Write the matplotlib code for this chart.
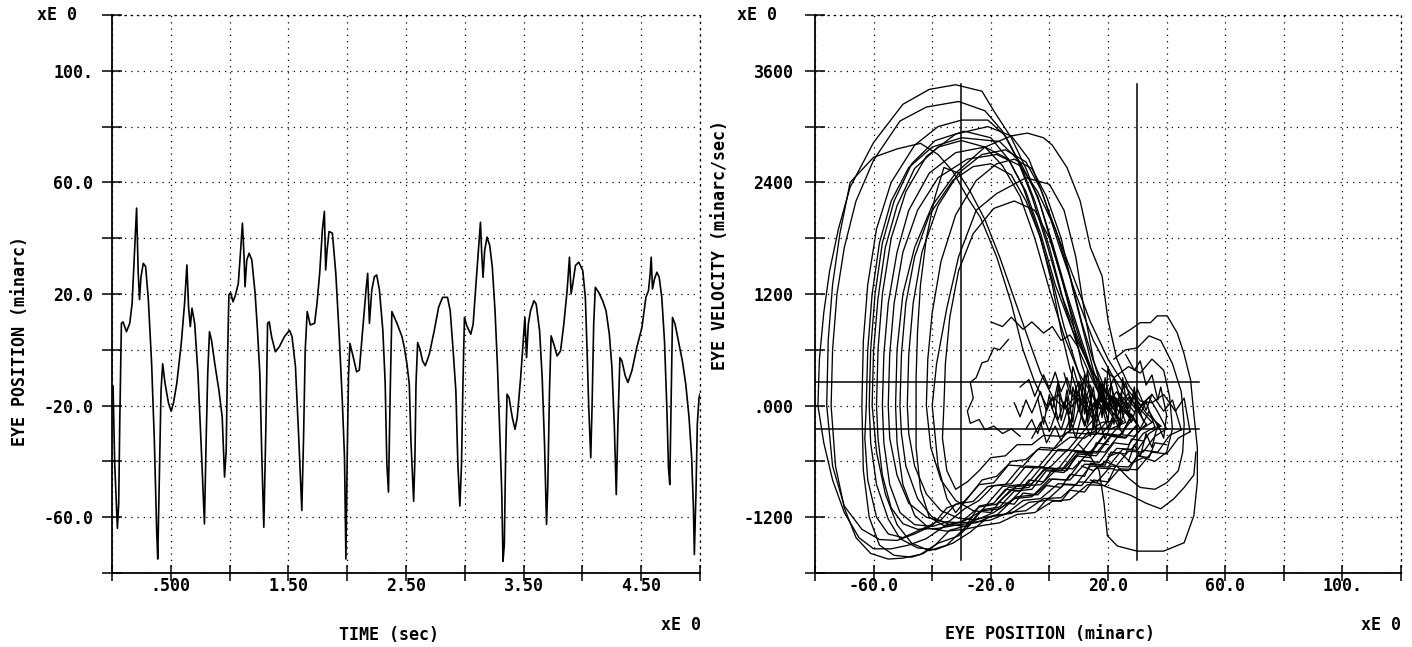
import matplotlib
matplotlib.use("Agg")
import matplotlib.pyplot as plt

# left panel: eye position trace (time in sec, position in minarc)
time_s = [0.009, 0.023, 0.037, 0.046, 0.057, 0.066, 0.080, 0.094, 0.123, 0.151, 0.171, 0.189, 0.209, 0.223,
          0.234, 0.246, 0.266, 0.286, 0.309, 0.337, 0.360, 0.380, 0.389, 0.403, 0.417, 0.431, 0.451, 0.480,
          0.503, 0.523, 0.551, 0.589, 0.617, 0.637, 0.651, 0.666, 0.680, 0.703, 0.731, 0.760, 0.786, 0.800,
          0.814, 0.829, 0.846, 0.874, 0.909, 0.937, 0.957, 0.971, 0.983, 0.994, 1.009, 1.029, 1.051, 1.074,
          1.094, 1.109, 1.123, 1.131, 1.146, 1.166, 1.189, 1.217, 1.237, 1.257, 1.274, 1.291, 1.309, 1.323,
          1.337, 1.357, 1.389, 1.423, 1.466, 1.509, 1.531, 1.560, 1.589, 1.614, 1.629, 1.643, 1.660, 1.686,
          1.723, 1.743, 1.766, 1.789, 1.806, 1.817, 1.829, 1.846, 1.874, 1.903, 1.931, 1.957, 1.977, 1.989,
          2.000, 2.011, 2.023, 2.051, 2.080, 2.103, 2.131, 2.160, 2.174, 2.189, 2.209, 2.231, 2.251, 2.274,
          2.303, 2.323, 2.337, 2.351, 2.366, 2.380, 2.423, 2.466, 2.486,
          2.508, 2.528, 2.542, 2.556, 2.565, 2.576, 2.585, 2.599, 2.619, 2.641, 2.664, 2.698, 2.740, 2.777,
          2.811, 2.853, 2.876, 2.901, 2.924, 2.941, 2.958, 2.972, 2.983, 2.997, 3.017, 3.051, 3.071, 3.093,
          3.116, 3.133, 3.144, 3.155, 3.169, 3.189, 3.212, 3.234, 3.257, 3.277, 3.297, 3.314, 3.325, 3.336,
          3.347, 3.359, 3.376, 3.404, 3.427, 3.446, 3.475, 3.497, 3.511, 3.525, 3.540, 3.559, 3.588, 3.607,
          3.636, 3.658, 3.678, 3.695, 3.706, 3.720, 3.734, 3.757, 3.785, 3.814, 3.842, 3.870, 3.890, 3.904,
          3.918, 3.941, 3.969, 4.003, 4.025, 4.040, 4.054, 4.071, 4.082, 4.096, 4.110, 4.138, 4.172, 4.201,
          4.229, 4.251, 4.271, 4.288, 4.302, 4.319, 4.336, 4.364, 4.387, 4.421, 4.463, 4.506, 4.540, 4.562,
          4.576, 4.585, 4.596, 4.613, 4.633, 4.653, 4.675, 4.698, 4.718, 4.732, 4.743, 4.754, 4.766, 4.788,
          4.816, 4.850, 4.879, 4.907, 4.929, 4.944, 4.952, 4.966, 4.977, 4.992, 5.000]
eye_pos = [-13, -41, -55, -64, -55, -26, 9.5, 10, 6.5, 9.5, 16.6, 33, 50.8, 27.4,
           18, 26, 31, 29.8, 18, -5, -32.5, -65, -75, -44, -14.5, -5, -12, -19,
           -22, -19, -12, 2.3, 16.6, 30.4, 15.4, 8.3, 14.9, 9.5, -8.5, -36, -62.4, -33.5,
           -8.5, 6.5, 3.5, -5, -14.5, -24, -45.6, -36, -2, 19.8, 20.4, 17.2, 19.8, 23.8,
           35.8, 45.4, 33.4, 22.6, 32.2, 34.6, 32.2, 20.2, 7, -8.5, -38.4, -63.6, -26.5, 9.5,
           10, 4.7, -0.7, 1.1, 4.7, 7, 4.7, -6, -32.5, -57.6, -31.3, -0.1, 13.7, 8.9,
           9.5, 16.6, 27.4, 43, 49.6, 28.6, 35.8, 42.4, 41.8, 27.4, 5.9, -16.9, -38.4, -75,
           -38.4, -9.7, 2.3, -2.5, -7.9, -7.3, 7, 21.4, 27.4, 9.5, 21.4, 26.2, 26.8, 21.4,
           7, -12, -40.8, -51, -14.5, 13.7, 9.5, 4.7, 0.8,
           -5.1, -12.3, -32.7, -45.9, -54.3, -38.7, -12.3, 2.6, 0.2, -4, -5.7, -1.6, 6.8, 15.2,
           18.8, 18.8, 14, -0.4, -14.7, -41.1, -56, -41, -14.7, 11.6, 8.6, 5.6, 9.2, 22.4,
           35.6, 45.7, 34.4, 26, 35.6, 40.4, 37.4, 29.6, 14, -5.1, -29.1, -50.7, -75.8, -69.8,
           -38.7, -15.9, -17.1, -24.3, -28.5, -24.3, -9.9, 3.2, 11.6, -2.8, 9.2, 14, 17.6, 16.4,
           6.8, -9.9, -33.9, -62.6, -48.3, -14.7, 5, 2, -2.2, -0.4, 9.2, 21.2, 33.2, 20,
           23.6, 30.2, 31.4, 28.4, 18.8, -0.4, -20.7, -38.7, -20.7, 9.2, 22.4, 20.6, 17.6, 14,
           5.6, -6.3, -26.7, -51.9, -26.7, -2.8, -4, -9.3, -11.7, -7.5, 0.9, 8, 18.8, 21.2,
           27.2, 33.2, 21.8, 25.4, 27.8, 26, 18.8, 3.2, -20.7, -42.3, -48.3, -20.7, 11.6, 9.2,
           3.2, -4, -12.3, -24.3, -38.7, -56.6, -73.4, -50.7, -26.7, -17.1, -15.9]

# right panel: phase-plane loops (eye position minarc, eye velocity minarc/sec)
loop01 = [(28, -120), (24, -330), (19, -310), (14, -520), (9, -500), (4, -700), (-2, -690), (-7, -880),
          (-13, -900), (-18, -1060), (-24, -1090), (-30, -1250), (-36, -1300), (-42, -1430), (-48, -1500),
          (-54, -1540), (-60, -1540), (-65, -1420), (-70, -1150), (-74, -800), (-77, -400), (-79, 0),
          (-78.5, 500), (-77, 1000), (-75, 1450), (-72, 1900), (-68, 2350), (-60, 2830), (-50, 3240),
          (-41, 3400), (-32, 3450), (-23, 3380), (-19, 3170), (-13, 2880), (-8, 2550), (-3, 2150), (2, 1600),
          (7, 1050), (12, 550), (16, 200), (19, -40), (22, 110), (25, -60), (28, -120)]
loop02 = [(35, -180), (31, -260), (27, -420), (22, -400), (17, -610), (11, -590), (6, -800), (0, -790),
          (-6, -980), (-12, -1000), (-18, -1180), (-25, -1220), (-31, -1400), (-38, -1480), (-44, -1600),
          (-50, -1640), (-55, -1650), (-61, -1590), (-66, -1420), (-70, -1100), (-73, -650), (-74.5, 0),
          (-74, 600), (-72.5, 1200), (-70, 1700), (-66, 2200), (-60, 2640), (-51, 3060), (-42, 3210),
          (-31, 3270), (-22, 3170), (-16, 2950), (-11, 2650), (-6, 2250), (-1, 1750), (4, 1200), (10, 700),
          (15, 350), (20, 100), (24, -80), (27, 90), (31, -40), (35, -180)]
loop03 = [(30, -200), (26, -350), (21, -330), (16, -540), (10, -520), (5, -720), (-1, -700), (-6, -900),
          (-12, -920), (-17, -1090), (-23, -1120), (-28, -1290), (-34, -1340), (-39, -1500), (-43, -1590),
          (-47, -1630), (-53, -1610), (-58, -1500), (-61.5, -1200), (-63.5, -700), (-64, 0), (-63.5, 700),
          (-62, 1300), (-59, 1900), (-54, 2400), (-46, 2800), (-38, 3000), (-30, 3070), (-21, 3070),
          (-15, 2900), (-10, 2600), (-5, 2200), (0, 1700), (5, 1100), (10, 600), (15, 250), (19, 0),
          (23, 150), (26, -50), (30, -200)]
loop04 = [(15, -150), (11, -300), (6, -290), (1, -480), (-4, -470), (-9, -650), (-14, -640), (-19, -830),
          (-24, -850), (-29, -1030), (-35, -1100), (-40, -1290), (-46, -1380), (-52, -1450), (-58, -1440),
          (-64, -1330), (-70, -1080), (-74, -650), (-76, 0), (-75.5, 700), (-74, 1300), (-71.5, 1850),
          (-68, 2400), (-60, 2670), (-52, 2760), (-44, 2820), (-38, 2700), (-33, 2520), (-28, 2240),
          (-23.5, 2020), (-18, 1600), (-13, 1100), (-9, 600), (-5, 250), (-1, 0), (3, 120), (6, -60),
          (10, 80), (13, -50), (15, -150)]
loop05 = [(38, -220), (34, -300), (30, -480), (25, -470), (20, -660), (14, -650), (9, -850), (3, -840),
          (-3, -1000), (-9, -1020), (-15, -1170), (-21, -1200), (-27, -1360), (-33, -1480), (-39, -1550),
          (-45, -1530), (-51, -1430), (-55, -1220), (-59, -850), (-61, -400), (-61.5, 0), (-61, 600),
          (-59.5, 1200), (-57, 1750), (-53, 2200), (-47, 2600), (-39, 2850), (-29, 2950), (-20, 2880),
          (-14, 2650), (-8, 2300), (-3, 1850), (2, 1300), (8, 800), (14, 400), (20, 120), (25, -50),
          (29, 100), (33, -80), (38, -220)]
loop06 = [(28, -160), (24, -320), (19, -300), (14, -500), (8, -480), (3, -680), (-3, -670), (-8, -860),
          (-14, -880), (-19, -1050), (-24, -1080), (-29, -1320), (-35, -1500), (-41, -1560), (-47, -1480),
          (-52, -1280), (-56, -950), (-59, -500), (-60.5, 0), (-60, 600), (-58.5, 1150), (-56, 1700),
          (-52, 2150), (-46, 2550), (-38, 2780), (-30, 2850), (-22, 2780), (-16, 2580), (-10, 2250),
          (-5, 1800), (0, 1250), (5, 750), (10, 350), (15, 100), (19, -60), (22, 100), (25, -30), (28, -160)]
loop07 = [(40, -250), (36, -330), (32, -500), (27, -490), (22, -680), (16, -670), (11, -860), (5, -850),
          (-1, -1020), (-7, -1040), (-13, -1160), (-19, -1180), (-25, -1260), (-31, -1280), (-38, -1320),
          (-45, -1330), (-50, -1270), (-54, -1100), (-57, -750), (-58.5, -350), (-59, 0), (-58.5, 600),
          (-57, 1200), (-54, 1800), (-49, 2300), (-42, 2680), (-32, 2920), (-21, 3000), (-13, 2900),
          (-7, 2650), (-2, 2250), (3, 1750), (9, 1200), (15, 700), (21, 350), (26, 100), (30, -60),
          (34, 90), (37, -70), (40, -250)]
loop08 = [(22, -140), (18, -300), (13, -290), (8, -480), (3, -470), (-2, -660), (-8, -650), (-13, -840),
          (-19, -860), (-24, -1020), (-29, -1110), (-34, -1240), (-40, -1300), (-46, -1280), (-51, -1150),
          (-54.5, -850), (-56.5, -400), (-57, 0), (-56.5, 550), (-55, 1100), (-52, 1650), (-48, 2100),
          (-41, 2500), (-32, 2720), (-22, 2780), (-14, 2650), (-9, 2350), (-4, 1900), (1, 1350), (5, 850),
          (9, 450), (12, 150), (15, -50), (18, 80), (20, -40), (22, -140)]
loop09 = [(45, -260), (41, -320), (37, -500), (32, -480), (27, -660), (21, -650), (16, -830), (10, -820),
          (4, -990), (-2, -1000), (-8, -1130), (-14, -1150), (-20, -1230), (-25, -1250), (-30, -1260),
          (-36, -1250), (-42, -1200), (-48, -1050), (-52, -750), (-54.5, -350), (-55, 0), (-54.5, 550),
          (-53, 1100), (-50, 1650), (-45, 2100), (-38, 2450), (-28, 2650), (-18, 2700), (-10, 2580),
          (-4, 2300), (2, 1900), (8, 1400), (14, 900), (20, 500), (26, 200), (31, 0), (35, 120), (39, -60),
          (42, 60), (45, -260)]
loop10 = [(48, -280), (44, -350), (40, -520), (35, -500), (30, -690), (24, -680), (19, -860), (13, -850),
          (7, -1010), (1, -1030), (-5, -1150), (-11, -1170), (-17, -1260), (-23, -1290), (-29, -1330),
          (-35, -1350), (-41, -1320), (-46, -1180), (-50, -850), (-52, -400), (-52.5, 0), (-52, 600),
          (-50, 1200), (-46, 1700), (-40, 2150), (-32, 2500), (-22, 2780), (-13, 2900), (-7.5, 2930),
          (-2, 2880), (1, 2800), (6, 2560), (10.5, 2200), (14, 1700), (18, 1390), (20, 920), (23, 500),
          (27, 220), (31, 50), (35, 30), (39, 120), (43, -60), (46, 80), (48, -280)]
loop11 = [(25, -170), (21, -320), (16, -300), (11, -500), (6, -480), (0, -670), (-5, -660), (-10, -850),
          (-16, -870), (-21, -1050), (-25, -1200), (-28, -1300), (-34, -1280), (-40, -1200), (-45, -1000),
          (-49, -650), (-50.5, -300), (-51, 0), (-50.5, 550), (-49, 1100), (-46, 1600), (-41, 2050),
          (-33, 2420), (-26, 2570), (-20, 2600), (-13, 2480), (-8, 2200), (-3, 1800), (1, 1300), (4, 800),
          (7, 400), (10, 100), (14, -40), (17, 90), (21, -60), (25, -170)]
loop12 = [(33, -200), (29, -330), (24, -310), (19, -500), (14, -490), (8, -680), (3, -670), (-3, -850),
          (-8, -860), (-13, -1020), (-19, -1150), (-25, -1230), (-31, -1210), (-37, -1130), (-42, -950),
          (-46, -650), (-48, -300), (-48.5, 0), (-48, 550), (-46.5, 1100), (-43.5, 1650), (-38, 2150),
          (-31, 2500), (-23, 2700), (-15, 2750), (-8, 2620), (-3, 2330), (2, 1900), (7, 1400), (11, 900),
          (15, 480), (19, 180), (23, 0), (27, 130), (30, -50), (33, -200)]
loop13 = [(26, -180), (21, -250), (17, -240), (12, -350), (7, -340), (2, -460), (-3, -450), (-8, -580),
          (-13, -600), (-18, -760), (-23, -800), (-28, -1000), (-32, -1150), (-35, -1000), (-38, -650),
          (-40, 0), (-38.5, 450), (-35, 1050), (-31, 1600), (-25, 2100), (-18, 2280), (-8, 2450), (0, 2380),
          (5, 2100), (9, 1600), (12, 1000), (15, 500), (18, 150), (20, -30), (23, 80), (26, -180)]
loop14 = [(36, -230), (32, -300), (28, -470), (23, -460), (18, -640), (12, -630), (7, -800), (1, -790),
          (-5, -960), (-11, -980), (-17, -1110), (-23, -1130), (-29, -1240), (-36, -1290), (-41, -1200),
          (-44, -900), (-45.5, -450), (-45.5, 300), (-45, 800), (-44, 1300), (-42, 1800), (-39, 2250),
          (-36, 2560), (-31, 2500), (-27, 2300), (-22, 2000), (-17, 1600), (-12, 1150), (-7, 700),
          (-3, 350), (1, 100), (5, -30), (9, 100), (13, -80), (17, 60), (21, -40), (25, 90), (29, -70),
          (33, 40), (36, -230)]
loop15 = [(30, -210), (26, -340), (21, -320), (16, -510), (10, -500), (5, -680), (-1, -670), (-6, -840),
          (-11, -860), (-16, -1000), (-20, -1150), (-26, -1130), (-32, -1020), (-37, -800), (-40.5, -450),
          (-42, 0), (-41.5, 500), (-40, 1000), (-37, 1550), (-32, 2050), (-25, 2420), (-18, 2600),
          (-12, 2650), (-6, 2550), (-1, 2250), (4, 1800), (8, 1250), (12, 750), (15, 380), (18, 100),
          (21, -40), (24, 90), (27, -60), (30, -210)]
loop16 = [(24, -160), (18, -180), (14, -260), (8, -250), (4, -330), (-2, -320), (-6, -420), (-11, -420),
          (-15, -540), (-20, -560), (-24, -700), (-28, -820), (-32, -900), (-35, -700), (-36.5, -350),
          (-36, 0), (-35.5, 450), (-34, 950), (-31, 1450), (-26, 1850), (-19, 2120), (-12, 2200), (-5, 2100),
          (0, 1800), (4, 1400), (8, 900), (11, 450), (14, 150), (17, -30), (20, 80), (24, -160)]
loop17 = [(20, -150), (16, -310), (11, -300), (6, -490), (1, -480), (-4, -670), (-10, -660), (-15, -850),
          (-21, -870), (-26, -1030), (-32, -1060), (-37, -1230), (-43, -1320), (-50, -1420), (-55, -1380),
          (-59, -1200), (-62, -800), (-63, -350), (-62.5, 0), (-62, 600), (-60.5, 1200), (-58, 1750),
          (-54, 2200), (-48, 2560), (-40, 2780), (-30, 2880), (-17, 2840), (-10, 2620), (-4, 2250),
          (1, 1750), (6, 1200), (11, 700), (15, 320), (18, 60), (20, -150)]

# small loops on the right of the fixation cluster
right01 = [(24, 746), (27.7, 819), (31, 892), (34.5, 892), (36.8, 965), (40.2, 965), (43.6, 783),
           (45.9, 564), (48.2, 273), (49.3, -91), (50.5, -455), (50.5, -819), (49.3, -1183), (46, -1474),
           (39, -1565), (30, -1565), (23.2, -1510), (19.8, -1400), (18.6, -1037), (17, -700), (14, -550),
           (10, -420)]
right02 = [(22, 500), (26, 600), (30, 620), (34, 750), (38, 700), (42, 450), (45, 150), (46, -200),
           (45.5, -500), (44, -700), (40, -830), (36, -900), (31, -880), (27, -780), (23, -650), (19, -600),
           (15, -700), (11, -650)]
right03 = [(18, 400), (22, 300), (27, 420), (31, 350), (35, 500), (39, 380), (41, 100), (42, -250),
           (40, -500), (36, -600), (32, -560), (28, -620), (24, -500), (20, -550)]
right04 = [(14, -800), (20, -880), (27.7, -964), (33, -1050), (38, -1110), (42.5, -1001), (46, -880),
           (49.3, -746), (50, -500)]

# jagged bands in the lower half
band01 = [(32, -380), (28, -360), (26, -520), (21, -500), (19, -640), (14, -620), (12, -760), (7, -740),
          (4, -880), (-1, -860), (-4, -960), (-9, -940), (-12, -1060), (-17, -1040)]
band02 = [(40, -420), (36, -400), (34, -560), (30, -540), (27, -700), (22, -690), (20, -820), (15, -800),
          (12, -930), (7, -910), (4, -1030), (-1, -1010), (-4, -1120)]
band03 = [(20, -420), (16, -400), (14, -560), (9, -540), (6, -700), (1, -690), (-2, -820), (-7, -800),
          (-10, -920), (-15, -900), (-18, -1010)]

# fixation scribbles
fix01 = [(-12, 30), (-10, -120), (-8, 60), (-6, -80), (-3, 150), (-1, -60), (1, 90), (3, -150), (5, 40),
         (7, -90), (8, 200), (10, -40), (12, 120), (13, -200), (15, 30), (16, -100), (18, 180), (20, -60),
         (21, 110), (23, -140), (25, 60), (27, -30), (29, 150), (31, -90), (33, 40)]
fix02 = [(-10, 200), (-7, 280), (-5, 100), (-2, 330), (0, 180), (2, 360), (4, 150), (6, 300), (8, 90),
         (10, 260), (12, 30), (14, 220), (16, -20), (18, 240), (19, 50), (22, 300), (24, 100), (26, 250),
         (28, 20), (30, 180), (33, -50), (35, 120)]
fix03 = [(-8, -250), (-6, -150), (-4, -300), (-2, -120), (0, -280), (2, -100), (4, -260), (6, -60),
         (8, -240), (10, -30), (12, -220), (14, 40), (16, -180), (18, -20), (20, -250), (22, -80),
         (24, -200), (26, -40), (28, -180), (30, 10), (32, -160)]
fix04 = [(-14, 710), (-17, 600), (-19, 620), (-21, 480), (-23, 460), (-25, 300), (-27, 250), (-26, 80),
         (-28, -60), (-27, -190), (-24, -150), (-22, -260), (-19, -220), (-16, -300), (-13, -250),
         (-10, -330)]
fix05 = [(-20, 900), (-16, 850), (-13, 950), (-9, 820), (-6, 900), (-2, 780), (1, 850), (4, 700),
         (7, 760), (10, 620)]
fix06 = [(0, 50), (2, -120), (3, 210), (5, -30), (6, 170), (8, -180), (9, 60), (11, 250), (12, -90),
         (14, 140), (15, -260), (17, 70), (18, -130), (19, 300), (21, 20), (22, -200), (24, 130), (25, -90)]
fix07 = [(-4, 80), (-2, -200), (0, 120), (1, -40), (3, 260), (4, -160), (6, 100), (7, -280), (9, 190),
         (10, -60), (12, 330), (13, -150), (15, 200), (16, -40), (18, 120), (20, -180), (21, 240), (23, -20)]
fix08 = [(5, 350), (7, 120), (8, 420), (10, 200), (11, -120), (13, 380), (14, 100), (16, -300), (17, 260),
         (19, -80), (20, 420), (22, 60), (24, -260), (25, 300), (27, -120), (29, 200), (30, -300)]
fix09 = [(-6, -350), (-3, -180), (-1, -400), (2, -220), (4, -380), (7, -150), (9, -350), (11, -100),
         (14, -330), (16, -80), (19, -360), (22, -140), (25, -300), (28, -90), (31, -250), (34, -60),
         (37, -220)]
fix10 = [(26, 550), (29, 380), (31, 480), (33, 220), (35, 330), (37, 60), (38, 200), (40, -100),
         (39, -350), (37, -200), (35, -450), (33, -300), (31, -550), (29, -420), (27, -600)]

# cursor lines drawn on the phase plot
cursor_x = [-30, 30]
cursor_v_span = [-1660, 3460]
cursor_v = [250, -250]
cursor_x_span = [-80, 51]

# axes ticks and labels
time_ticks = [0.5 * i for i in range(11)]
time_labels = ['', '.500', '', '1.50', '', '2.50', '', '3.50', '', '4.50', '']
pos_ticks = list(range(-80, 121, 20))
pos_labels = ['', '-60.0', '', '-20.0', '', '20.0', '', '60.0', '', '100.', '']
vel_ticks = list(range(-1800, 4201, 600))
vel_labels = ['', '-1200', '', '.000', '', '1200', '', '2400', '', '3600', '']

FONT = dict(family='DejaVu Sans Mono', weight='bold', size=12)
DOTS = (0, (1, 4))


def style_axes(ax, xticks, xlabels, yticks, ylabels, ypad):
    ax.set_xticks(xticks)
    ax.set_xticklabels(xlabels, fontdict=FONT)
    ax.set_yticks(yticks)
    ax.set_yticklabels(ylabels, fontdict=FONT)
    ax.grid(True, color='black', linestyle=DOTS, linewidth=0.9)
    for side in ('top', 'right'):
        ax.spines[side].set_linestyle(DOTS)
        ax.spines[side].set_linewidth(0.9)
    for side in ('left', 'bottom'):
        ax.spines[side].set_linewidth(1.3)
    ax.tick_params(axis='y', direction='inout', length=15, width=1.1, pad=ypad)
    ax.tick_params(axis='x', direction='inout', length=12, width=1.1, pad=-3)


def main():
    fig = plt.figure(figsize=(14.12, 6.47), dpi=100)
    ax1 = fig.add_axes([112 / 1412, 74 / 647, 588 / 1412, 558 / 647])
    ax2 = fig.add_axes([815 / 1412, 74 / 647, 586 / 1412, 558 / 647])

    # time trace
    ax1.plot(time_s, eye_pos, color='black', linewidth=1.2)
    ax1.set_xlim(0, 5)
    ax1.set_ylim(-80, 120)
    style_axes(ax1, time_ticks, time_labels, pos_ticks, pos_labels, 6)

    # phase plot
    loops = [loop01, loop02, loop03, loop04, loop05, loop06, loop07, loop08, loop09,
             loop10, loop11, loop12, loop13, loop14, loop15, loop16, loop17,
             right01, right02, right03, right04, band01, band02, band03,
             fix01, fix02, fix03, fix04, fix05, fix06, fix07, fix08, fix09, fix10]
    for loop in loops:
        xs, vs = zip(*loop)
        ax2.plot(xs, vs, color='black', linewidth=0.95)
    for cx in cursor_x:
        ax2.plot([cx, cx], cursor_v_span, color='black', linewidth=1.1)
    for cv in cursor_v:
        ax2.plot(cursor_x_span, [cv, cv], color='black', linewidth=1.1)
    ax2.set_xlim(-80, 120)
    ax2.set_ylim(-1800, 4200)
    style_axes(ax2, pos_ticks, pos_labels, vel_ticks, vel_labels, 8)

    # axis titles and exponent markers
    fig.text(20 / 1412, 1 - 341 / 647, 'EYE POSITION (minarc)', rotation=90,
             ha='center', va='center', fontdict=FONT)
    fig.text(720 / 1412, 1 - 245 / 647, 'EYE VELOCITY (minarc/sec)', rotation=90,
             ha='center', va='center', fontdict=FONT)
    fig.text(389 / 1412, 1 - 635 / 647, 'TIME (sec)', ha='center', va='center', fontdict=FONT)
    fig.text(1050 / 1412, 1 - 634 / 647, 'EYE POSITION (minarc)', ha='center', va='center', fontdict=FONT)
    for x_px, y_px in [(57, 15), (757, 15), (681, 625), (1381, 625)]:
        fig.text(x_px / 1412, 1 - y_px / 647, 'xE 0', ha='center', va='center', fontdict=FONT)

    fig.savefig('out.png', dpi=100)


if __name__ == "__main__":
    main()
